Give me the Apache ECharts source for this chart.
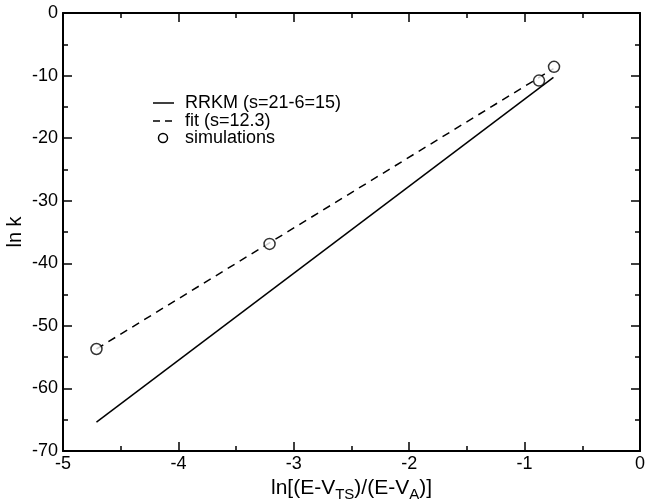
<!DOCTYPE html>
<html>
<head>
<meta charset="utf-8">
<script src="https://cdn.jsdelivr.net/npm/echarts@6/dist/echarts.min.js"></script>
<style>
html, body { margin: 0; padding: 0; background: #fff; }
#chart { width: 645px; height: 500px; }
</style>
</head>
<body>
<div id="chart"></div>
<script>
// RRKM line (s=21-6=15)
var rrkmX = [-4.71, -0.75];
var rrkmY = [-65.4, -10.3];
// fit line (s=12.3)
var fitX = [-4.71, -0.75];
var fitY = [-53.7, -8.9];
// simulation points
var simX = [-4.71, -3.21, -0.875, -0.745];
var simY = [-53.7, -36.9, -10.8, -8.6];
// legend labels
var legendNames = ['RRKM (s=21-6=15)', 'fit (s=12.3)', 'simulations'];

function pairs(xs, ys) {
	var out = [];
	for (var i = 0; i < xs.length; i++) out.push([xs[i], ys[i]]);
	return out;
}

var font = 'Liberation Sans, Arial, sans-serif';
var myChart = echarts.init(document.getElementById('chart'));

var axisLine = { show : true, onZero : false, lineStyle : { color : '#000', width : 2 } };
var axisTick = { show : true, inside : true, length : 9, lineStyle : { color : '#000', width : 1.5 } };
var minorTick = { show : true, splitNumber : 2, length : 5, lineStyle : { color : '#000', width : 1.5 } };

// legend drawn by hand (line / dashed line / circle)
var legendRows = [103, 121, 138];
var legendGraphic = [
	{ type : 'line', shape : { x1 : 153, y1 : legendRows[0], x2 : 174, y2 : legendRows[0] }, style : { stroke : '#000', lineWidth : 1.5 } },
	{ type : 'line', shape : { x1 : 153, y1 : legendRows[1], x2 : 174, y2 : legendRows[1] }, style : { stroke : '#000', lineWidth : 1.5, lineDash : [7, 5] } },
	{ type : 'circle', shape : { cx : 163, cy : legendRows[2], r : 4.5 }, style : { fill : '#fff', stroke : '#000', lineWidth : 1.5 } }
];
for (var i = 0; i < legendNames.length; i++) {
	legendGraphic.push({
		type : 'text',
		x : 185,
		y : legendRows[i],
		style : { text : legendNames[i], fontFamily : font, fontSize : 18, fill : '#000', verticalAlign : 'middle' }
	});
}

var option = {
	backgroundColor : '#fff',
	animation : false,
	grid : {
		left : 63,
		right : 5,
		top : 13,
		bottom : 49,
		outerBoundsMode : 'none',
		containLabel : false
	},
	graphic : legendGraphic,
	xAxis : [ {
		type : 'value',
		min : -5,
		max : 0,
		interval : 1,
		name : 'ln[(E-V{sub|TS})/(E-V{sub|A})]',
		nameLocation : 'middle',
		nameGap : 19,
		nameTextStyle : {
			fontFamily : font,
			fontSize : 21,
			color : '#000',
			rich : {
				sub : { fontFamily : font, fontSize : 15, color : '#000', padding : [13, 0, 0, 0] }
			}
		},
		axisLabel : { fontFamily : font, fontSize : 18, color : '#000', margin : 4 },
		axisLine : axisLine,
		axisTick : axisTick,
		minorTick : minorTick,
		splitLine : { show : false }
	}, {
		type : 'value',
		position : 'top',
		min : -5,
		max : 0,
		interval : 1,
		axisLabel : { show : false },
		axisLine : axisLine,
		axisTick : axisTick,
		minorTick : minorTick,
		splitLine : { show : false }
	} ],
	yAxis : [ {
		type : 'value',
		min : -70,
		max : 0,
		interval : 10,
		name : 'ln k',
		nameLocation : 'middle',
		nameGap : 38,
		nameMoveOverlap : false,
		nameTextStyle : { fontFamily : font, fontSize : 20, color : '#000' },
		axisLabel : { fontFamily : font, fontSize : 18, color : '#000', margin : 5 },
		axisLine : axisLine,
		axisTick : axisTick,
		minorTick : minorTick,
		splitLine : { show : false }
	}, {
		type : 'value',
		position : 'right',
		min : -70,
		max : 0,
		interval : 10,
		axisLabel : { show : false },
		axisLine : axisLine,
		axisTick : axisTick,
		minorTick : minorTick,
		splitLine : { show : false }
	} ],
	series : [ {
		name : legendNames[0],
		type : 'line',
		symbol : 'none',
		lineStyle : { color : '#000', width : 1.5, type : 'solid' },
		data : pairs(rrkmX, rrkmY)
	}, {
		name : legendNames[1],
		type : 'line',
		symbol : 'none',
		lineStyle : { color : '#000', width : 1.5, type : [8, 6] },
		data : pairs(fitX, fitY)
	}, {
		name : legendNames[2],
		type : 'scatter',
		symbol : 'circle',
		symbolSize : 11,
		z : 5,
		itemStyle : { color : '#fff', borderColor : '#000', borderWidth : 1.5 },
		data : pairs(simX, simY)
	} ]
};
myChart.setOption(option);
</script>
</body>
</html>
